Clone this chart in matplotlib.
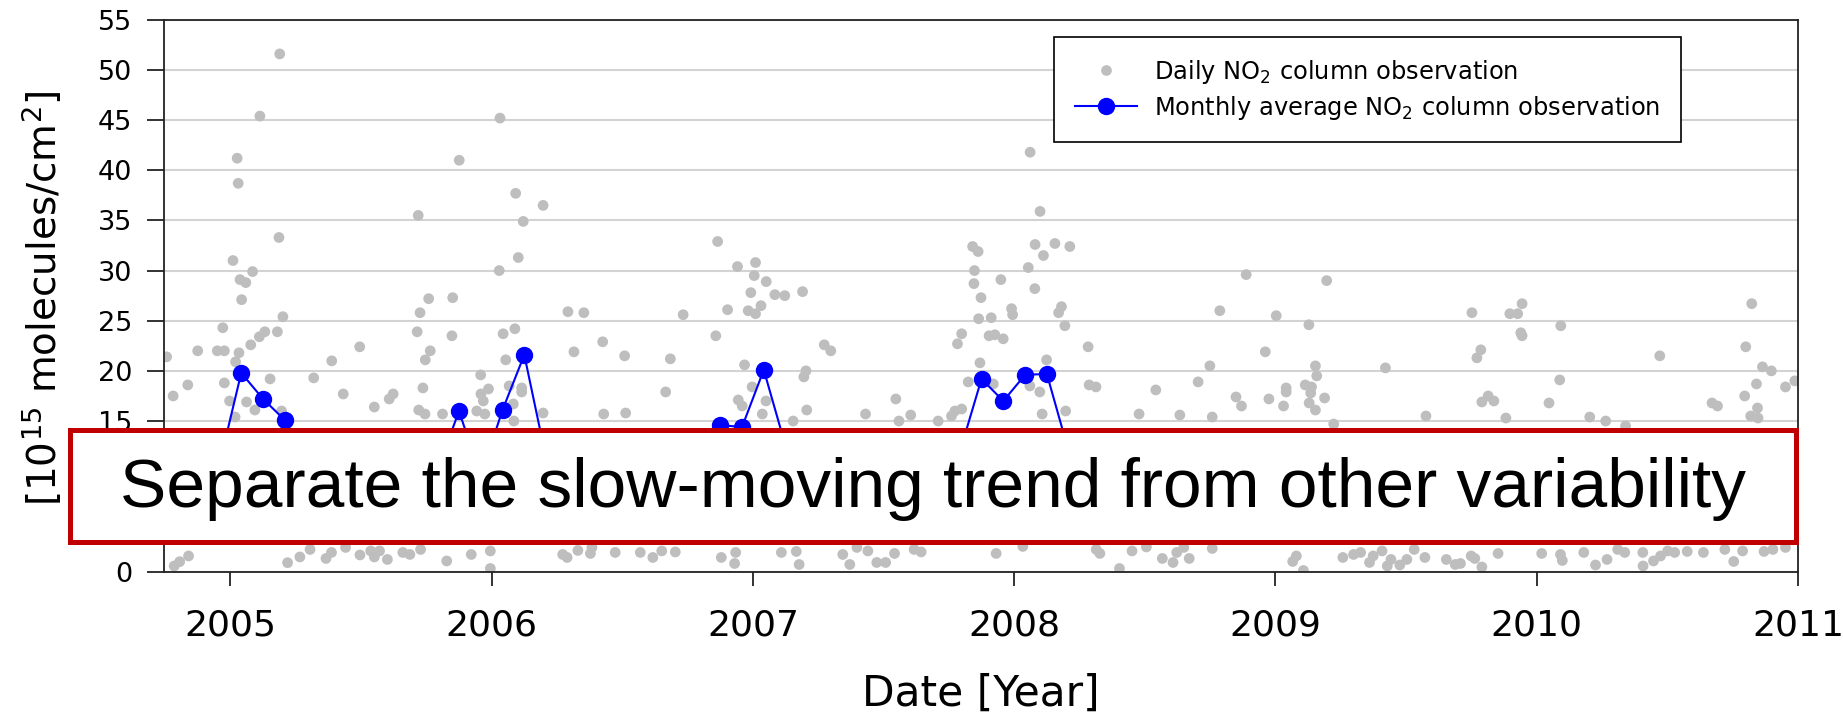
import numpy as np
import pandas as pd
import matplotlib
matplotlib.use("Agg")
import matplotlib.pyplot as plt
from matplotlib.lines import Line2D
from matplotlib.patches import Rectangle

# --- daily NO2 column observations (decimal year, 1e15 molecules/cm2) ---
daily_year = [
    2005.026, 2005.876, 2005.030, 2005.719, 2005.186, 2005.010, 2005.085, 2005.037,
    2005.059, 2006.029, 2005.043, 2005.759, 2005.851, 2005.726, 2005.201, 2004.971,
    2005.132, 2005.180, 2005.111, 2005.078, 2005.715, 2005.848, 2004.756, 2004.875,
    2004.950, 2004.977, 2005.033, 2005.495, 2005.765, 2005.388, 2005.746, 2005.020,
    2005.958, 2005.319, 2005.152, 2004.837, 2004.977, 2004.781, 2005.432, 2005.623,
    2005.608, 2005.737, 2005.959, 2005.988, 2005.968, 2005.062, 2005.094, 2004.997,
    2005.551, 2005.721, 2005.745, 2005.812, 2005.018, 2005.196, 2005.943, 2005.974,
    2005.189, 2005.113, 2006.032,
    2006.092, 2006.197, 2006.121, 2006.102, 2006.292, 2006.353, 2006.733, 2006.865,
    2006.941, 2007.010, 2007.005, 2007.051, 2006.992, 2007.084, 2007.122, 2007.190,
    2006.903, 2006.982, 2007.010, 2007.031, 2006.044, 2006.089, 2006.858, 2006.425,
    2006.315, 2006.509, 2006.684, 2006.054, 2007.273, 2006.968, 2007.203, 2007.195,
    2006.067, 2006.115, 2006.115, 2006.666, 2006.997, 2006.944, 2006.959, 2007.050,
    2006.083, 2006.197, 2006.429, 2006.513, 2007.036, 2007.206, 2007.154, 2006.085,
    2008.061, 2008.099, 2007.841, 2007.862, 2008.080, 2008.156, 2008.213, 2008.112,
    2007.848, 2008.054, 2007.846, 2007.949, 2008.079, 2007.873, 2007.990, 2007.994,
    2008.181, 2008.170, 2007.864, 2007.912, 2008.194, 2007.799, 2007.783, 2007.904,
    2007.926, 2007.958, 2007.298, 2008.283, 2007.869, 2008.124, 2007.824, 2007.920,
    2008.060, 2008.098, 2008.287, 2008.313, 2008.542, 2007.547, 2007.431, 2007.604,
    2007.773, 2007.799, 2007.760, 2008.107, 2008.197, 2008.478, 2007.559, 2007.709,
    2008.888, 2009.196, 2008.787, 2009.003, 2009.128, 2009.752, 2008.961, 2008.749,
    2009.153, 2009.158, 2009.421, 2009.786, 2009.771, 2008.704, 2008.849, 2008.870,
    2008.975, 2009.041, 2009.041, 2009.114, 2009.138, 2009.135, 2009.129, 2009.153,
    2009.188, 2009.031, 2008.634, 2008.758, 2009.576, 2009.790, 2009.814, 2009.223,
    2009.944, 2009.897, 2009.927, 2009.939, 2009.944, 2010.092, 2010.823, 2010.471,
    2010.800, 2010.864, 2010.898, 2010.088, 2010.841, 2010.952, 2010.988, 2010.796,
    2009.836, 2010.047, 2010.671, 2010.692, 2010.845, 2009.882, 2010.203, 2010.264,
    2010.819, 2010.847, 2010.340,
    # low values below the annotation box
    2004.785, 2004.806, 2004.840, 2005.219, 2005.266, 2005.305, 2005.366, 2005.387,
    2005.441, 2005.496, 2005.537, 2005.551, 2005.571, 2005.601, 2005.660, 2005.687,
    2005.728, 2005.828, 2005.922, 2005.995, 2005.995, 2006.272, 2006.289, 2006.330,
    2006.378, 2006.384, 2006.473, 2006.569, 2006.617, 2006.651, 2006.703,
    2006.879, 2006.934, 2006.930, 2007.109, 2007.166, 2007.177, 2007.344, 2007.371,
    2007.398, 2007.440, 2007.474, 2007.508, 2007.542, 2007.617, 2007.644, 2007.931,
    2008.033, 2008.314, 2008.328, 2008.403, 2008.451, 2008.506, 2008.567, 2008.608,
    2008.622, 2008.670, 2008.649, 2008.758,
    2009.066, 2009.080, 2009.107, 2009.258, 2009.299, 2009.326, 2009.360, 2009.374,
    2009.408, 2009.428, 2009.442, 2009.476, 2009.503, 2009.531, 2009.572, 2009.654,
    2009.688, 2009.708, 2009.749, 2009.763, 2009.790, 2009.852, 2010.019, 2010.091,
    2010.098, 2010.180, 2010.225, 2010.269, 2010.310, 2010.337, 2010.406, 2010.407,
    2010.447, 2010.474, 2010.501, 2010.528, 2010.576, 2010.638, 2010.720, 2010.754,
    2010.788, 2010.870, 2010.904, 2010.952,
]
daily_no2 = [
    41.2, 41.0, 38.7, 35.5, 33.3, 31.0, 29.9, 29.1,
    28.8, 30.0, 27.1, 27.2, 27.3, 25.8, 25.4, 24.3,
    23.9, 23.9, 23.4, 22.6, 23.9, 23.5, 21.4, 22.0,
    22.0, 22.0, 21.8, 22.4, 22.0, 21.0, 21.1, 20.9,
    19.6, 19.3, 19.2, 18.6, 18.8, 17.5, 17.7, 17.7,
    17.2, 18.3, 17.7, 18.2, 17.0, 16.9, 16.1, 17.0,
    16.4, 16.1, 15.7, 15.7, 15.4, 16.0, 16.0, 15.7,
    51.6, 45.4, 45.2,
    37.7, 36.5, 34.9, 31.3, 25.9, 25.8, 25.6, 32.9,
    30.4, 30.8, 29.5, 28.9, 27.8, 27.6, 27.5, 27.9,
    26.1, 26.0, 25.7, 26.5, 23.7, 24.2, 23.5, 22.9,
    21.9, 21.5, 21.2, 21.1, 22.6, 20.6, 20.0, 19.4,
    18.5, 18.3, 17.9, 17.9, 18.4, 17.1, 16.5, 17.0,
    16.7, 15.8, 15.7, 15.8, 15.7, 16.1, 15.0, 15.0,
    41.8, 35.9, 32.4, 31.9, 32.6, 32.7, 32.4, 31.5,
    30.0, 30.3, 28.7, 29.1, 28.2, 27.3, 26.2, 25.6,
    26.4, 25.8, 25.2, 25.3, 24.5, 23.7, 22.7, 23.5,
    23.6, 23.2, 22.0, 22.4, 20.8, 21.1, 18.9, 18.7,
    18.5, 17.9, 18.6, 18.4, 18.1, 17.2, 15.7, 15.6,
    16.0, 16.2, 15.5, 15.7, 16.0, 15.7, 15.0, 15.0,
    29.6, 29.0, 26.0, 25.5, 24.6, 25.8, 21.9, 20.5,
    20.5, 19.5, 20.3, 22.1, 21.3, 18.9, 17.4, 16.5,
    17.2, 18.3, 17.9, 18.6, 18.4, 17.8, 16.8, 16.1,
    17.3, 16.5, 15.6, 15.4, 15.5, 16.9, 17.5, 14.7,
    26.7, 25.7, 25.7, 23.8, 23.5, 24.5, 26.7, 21.5,
    22.4, 20.4, 20.0, 19.1, 18.7, 18.4, 19.0, 17.5,
    17.0, 16.8, 16.8, 16.5, 16.3, 15.3, 15.4, 15.0,
    15.5, 15.3, 14.5,
    0.55, 0.98, 1.55, 0.88, 1.45, 2.2, 1.3, 1.9,
    2.4, 1.65, 2.05, 1.45, 2.05, 1.2, 1.9, 1.7,
    2.2, 1.05, 1.7, 2.05, 0.3, 1.7, 1.4, 2.1,
    1.8, 2.4, 1.9, 1.9, 1.4, 2.05, 1.95,
    1.4, 1.9, 0.8, 1.9, 2.0, 0.7, 1.7, 0.7,
    2.4, 2.05, 0.9, 0.9, 1.8, 2.2, 1.95, 1.8,
    2.5, 2.2, 1.8, 0.3, 2.05, 2.45, 1.3, 0.9,
    1.9, 1.3, 2.4, 2.3,
    1.0, 1.55, 0.1, 1.4, 1.7, 1.9, 0.9, 1.55,
    2.05, 0.55, 1.2, 0.65, 1.2, 2.2, 1.4, 1.2,
    0.7, 0.8, 1.55, 1.3, 0.45, 1.8, 1.8, 1.7,
    1.1, 1.9, 0.65, 1.2, 2.2, 1.9, 1.9, 0.55,
    1.05, 1.55, 2.05, 1.9, 2.0, 1.9, 2.2, 1.0,
    2.05, 2.0, 2.2, 2.4,
]

# --- monthly averages, Oct 2004 .. Dec 2010 ---
months = pd.period_range("2004-10", "2010-12", freq="M")
monthly_no2 = [
    9.0, 10.5, 10.7,
    19.8, 17.2, 15.1, 11.0, 7.5, 6.0, 5.5, 6.2, 8.0, 10.0, 16.0, 9.5,
    16.1, 21.6, 11.3, 8.5, 6.8, 5.6, 5.2, 6.0, 7.9, 10.0, 14.6, 14.4,
    20.1, 12.5, 10.0, 8.0, 6.5, 5.4, 5.0, 5.8, 7.6, 11.9, 19.2, 17.0,
    19.6, 19.7, 12.0, 9.0, 6.6, 5.3, 4.9, 5.5, 7.0, 9.5, 12.5, 12.0,
    13.0, 11.5, 9.5, 7.5, 6.0, 5.0, 4.6, 5.2, 6.8, 9.0, 11.0, 12.5,
    12.8, 11.0, 9.0, 7.2, 5.8, 4.8, 4.5, 5.0, 6.5, 8.8, 11.5, 13.0,
]
monthly_year = months.year + (months.month - 0.5) / 12.0

year_ticks = [2005, 2006, 2007, 2008, 2009, 2010, 2011]
y_ticks = list(range(0, 60, 5))
# the labels for 5 and 10 sit under the annotation box
y_ticklabels = ["0", "", ""] + [str(v) for v in y_ticks[3:]]

W, H = 1843, 715
fig = plt.figure(figsize=(W / 100, H / 100), dpi=100)
ax = fig.add_axes([164 / W, 1 - 571.5 / H, (1798 - 164) / W, (571.5 - 19.8) / H])

ax.scatter(daily_year, daily_no2, s=60, color="#bebebe", edgecolors="none", zorder=2)
ax.plot(monthly_year, monthly_no2, color="#0000ff", lw=1.5, marker="o",
        markersize=11.5, zorder=3)

ax.set_xlim(2004.746, 2011.0)
ax.set_ylim(0, 55)
ax.set_xticks(year_ticks)
ax.set_xticklabels([str(y) for y in year_ticks])
ax.set_yticks(y_ticks)
ax.set_yticklabels(y_ticklabels)
ax.set_axisbelow(True)
ax.yaxis.grid(True, color="#d3d3d3", lw=1.5)
for sp in ax.spines.values():
    sp.set_linewidth(1.3)
    sp.set_color("#222222")
ax.tick_params(axis="x", length=10, width=1.3, labelsize=26, pad=17, color="#222222")
ax.tick_params(axis="y", length=12, width=1.3, labelsize=19.5, pad=10.8, color="#222222")

handles = [
    Line2D([0], [0], linestyle="none", marker="o", markersize=7.7,
           markerfacecolor="#bebebe", markeredgecolor="none"),
    Line2D([0], [0], color="#0000ff", lw=1.5, marker="o", markersize=11.5),
]
labels = ["Daily NO$_2$ column observation",
          "Monthly average NO$_2$ column observation"]
leg = ax.legend(handles, labels, loc="upper left",
                bbox_to_anchor=(1054 / W, 1 - 37 / H), bbox_transform=fig.transFigure,
                borderaxespad=0, fancybox=False, framealpha=1, edgecolor="black",
                fontsize=17.4, handlelength=2.6, handletextpad=0.7,
                borderpad=0.85, labelspacing=0.33)
leg.get_frame().set_linewidth(1.2)

fig.text(43 / W, 1 - 298 / H, "[10$^{15}$ molecules/cm$^{2}$]", rotation=90,
         fontsize=28, ha="center", va="center")
fig.text(981 / W, 1 - 694 / H, "Date [Year]", fontsize=30.5, ha="center", va="center")

# annotation box over the middle of the chart
box = Rectangle((69.5 / W, 1 - 541.5 / H), (1795.5 - 69.5) / W, 112 / H,
                transform=fig.transFigure, facecolor="white", edgecolor="#c00000",
                lw=3.6, zorder=10)
fig.add_artist(box)
fig.text(932.5 / W, 1 - 507 / H, "Separate the slow-moving trend from other variability",
         fontsize=50, family="Liberation Sans", ha="center", va="baseline", zorder=11)

fig.savefig("out.png", dpi=100)
